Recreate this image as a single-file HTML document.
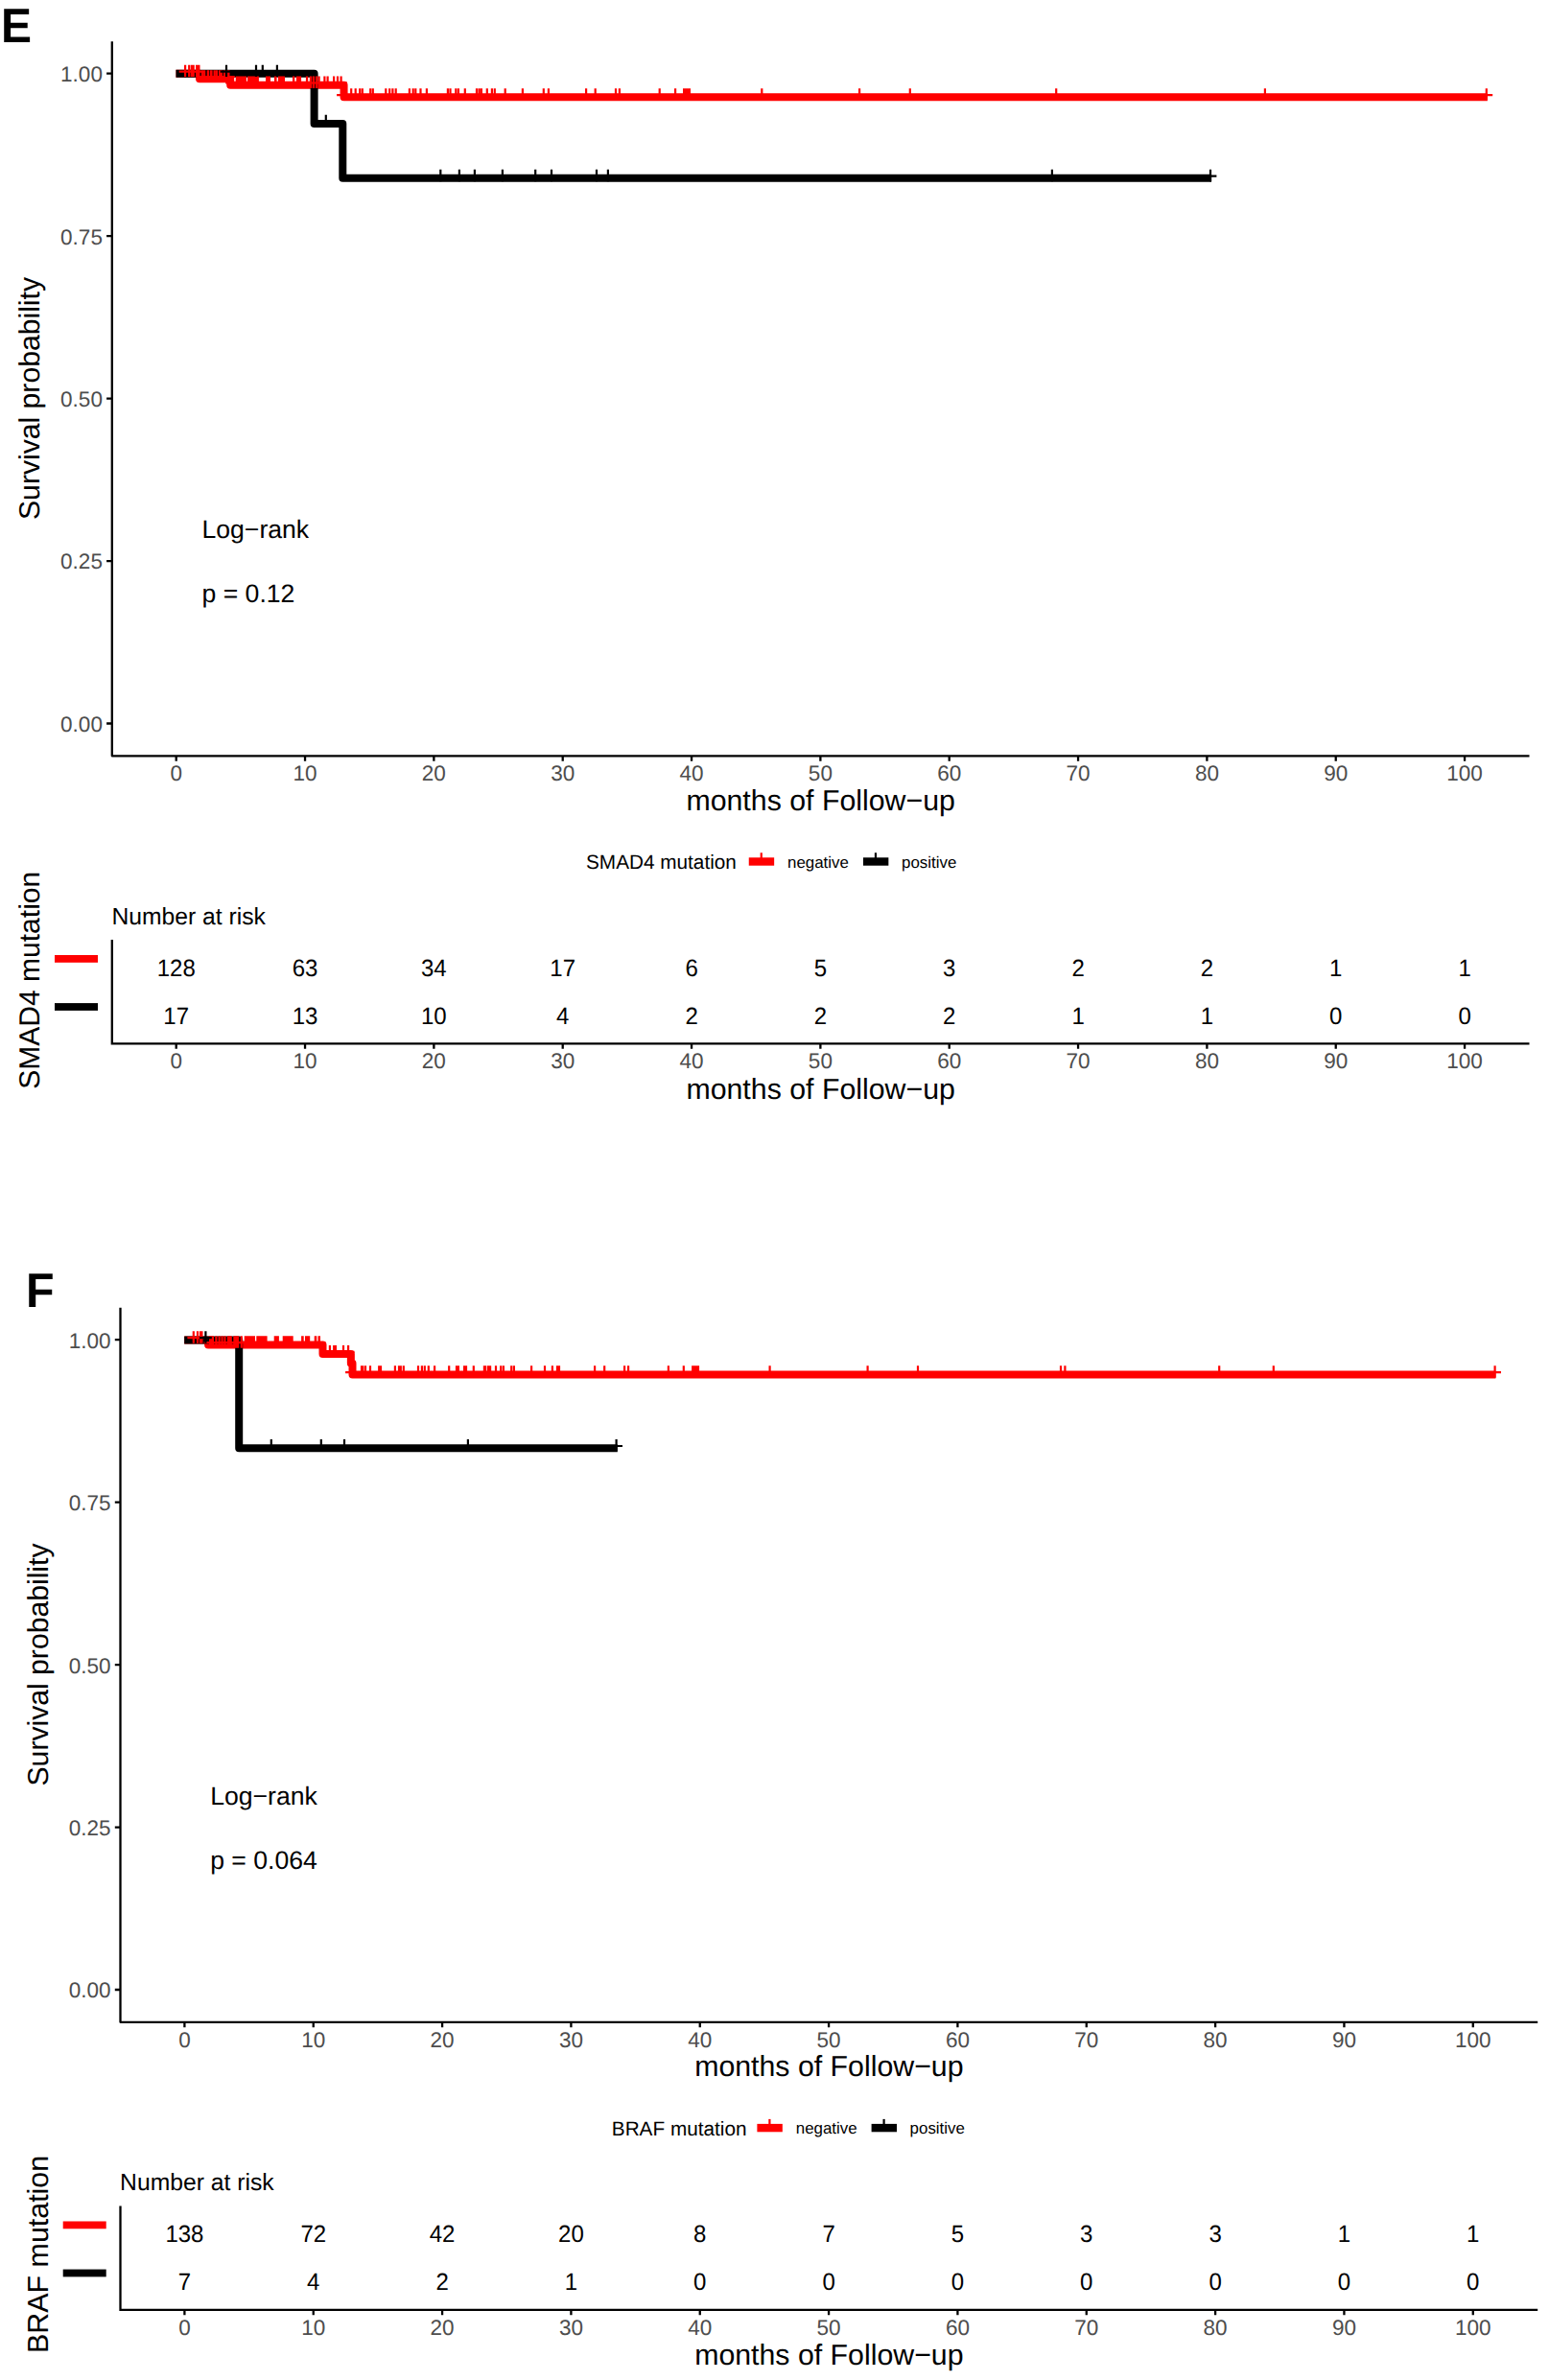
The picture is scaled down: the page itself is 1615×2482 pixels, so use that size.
<!DOCTYPE html>
<html lang="en"><head><meta charset="utf-8"><title>Kaplan-Meier survival curves: SMAD4 and BRAF mutation</title>
<style>html,body{margin:0;padding:0;background:#fff}svg{display:block}text{font-family:"Liberation Sans", sans-serif;text-rendering:geometricPrecision}</style>
</head><body>
<svg width="1615" height="2482" viewBox="0 0 1615 2482" role="img" aria-label="Kaplan-Meier survival curves by SMAD4 and BRAF mutation status">
<rect width="1615" height="2482" fill="#fff"/>
<g>
<text transform="translate(0.9,43.9) scale(0.952,1)" font-size="50.4" font-weight="700" fill="#000">E</text>
<path d="M183.5,76.77H208.05V82.34H240.2V88.69H358.56V101.3H1550.8" stroke="#FF0000" stroke-width="8" fill="none" stroke-linejoin="round" stroke-linecap="butt"/>
<path d="M183.5,76.77H327.6V128.9H357.3V185.86H1263.1" stroke="#000000" stroke-width="8" fill="none" stroke-linejoin="round" stroke-linecap="butt"/>
<path d="M193.1,67.67v12.4M186.7,74.57h12.8M197.2,67.67v12.4M190.8,74.57h12.8M199.9,67.67v12.4M193.5,74.57h12.8M201.7,67.67v12.4M195.3,74.57h12.8M205.1,67.67v12.4M198.7,74.57h12.8M206.3,67.67v12.4M199.9,74.57h12.8M207.4,67.67v12.4M201,74.57h12.8M210.9,73.24v12.4M204.5,80.14h12.8M213.2,73.24v12.4M206.8,80.14h12.8M216.8,73.24v12.4M210.4,80.14h12.8M217.1,73.24v12.4M210.7,80.14h12.8M220,73.24v12.4M213.6,80.14h12.8M220.5,73.24v12.4M214.1,80.14h12.8M223.6,73.24v12.4M217.2,80.14h12.8M225.9,73.24v12.4M219.5,80.14h12.8M229,73.24v12.4M222.6,80.14h12.8M230.9,73.24v12.4M224.5,80.14h12.8M234,73.24v12.4M227.6,80.14h12.8M236.2,73.24v12.4M229.8,80.14h12.8M238.4,73.24v12.4M232,80.14h12.8M241.6,79.59v12.4M235.2,86.49h12.8M242.9,79.59v12.4M236.5,86.49h12.8M246.8,79.59v12.4M240.4,86.49h12.8M248.32,79.59v12.4M241.92,86.49h12.8M249.83,79.59v12.4M243.43,86.49h12.8M251.35,79.59v12.4M244.95,86.49h12.8M252.87,79.59v12.4M246.47,86.49h12.8M254.38,79.59v12.4M247.98,86.49h12.8M255.9,79.59v12.4M249.5,86.49h12.8M259.1,79.59v12.4M252.7,86.49h12.8M260.72,79.59v12.4M254.32,86.49h12.8M262.33,79.59v12.4M255.93,86.49h12.8M263.95,79.59v12.4M257.55,86.49h12.8M265.57,79.59v12.4M259.17,86.49h12.8M267.18,79.59v12.4M260.78,86.49h12.8M268.8,79.59v12.4M262.4,86.49h12.8M278.1,79.59v12.4M271.7,86.49h12.8M279.5,79.59v12.4M273.1,86.49h12.8M280.9,79.59v12.4M274.5,86.49h12.8M287.1,79.59v12.4M280.7,86.49h12.8M287.5,79.59v12.4M281.1,86.49h12.8M291,79.59v12.4M284.6,86.49h12.8M292.63,79.59v12.4M286.23,86.49h12.8M294.27,79.59v12.4M287.87,86.49h12.8M295.9,79.59v12.4M289.5,86.49h12.8M306.1,79.59v12.4M299.7,86.49h12.8M306.2,79.59v12.4M299.8,86.49h12.8M310,79.59v12.4M303.6,86.49h12.8M311.5,79.59v12.4M305.1,86.49h12.8M313,79.59v12.4M306.6,86.49h12.8M320,79.59v12.4M313.6,86.49h12.8M320.1,79.59v12.4M313.7,86.49h12.8M323.9,79.59v12.4M317.5,86.49h12.8M324.1,79.59v12.4M317.7,86.49h12.8M326.9,79.59v12.4M320.5,86.49h12.8M329.9,79.59v12.4M323.5,86.49h12.8M332.6,79.59v12.4M326.2,86.49h12.8M338.4,79.59v12.4M332,86.49h12.8M341.6,79.59v12.4M335.2,86.49h12.8M348.1,79.59v12.4M341.7,86.49h12.8M352,79.59v12.4M345.6,86.49h12.8M355.6,79.59v12.4M349.2,86.49h12.8M357.5,92.2v12.4M351.1,99.1h12.8M366.2,92.2v12.4M359.8,99.1h12.8M370.7,92.2v12.4M364.3,99.1h12.8M375.2,92.2v12.4M368.8,99.1h12.8M377.8,92.2v12.4M371.4,99.1h12.8M386.2,92.2v12.4M379.8,99.1h12.8M388.8,92.2v12.4M382.4,99.1h12.8M402.3,92.2v12.4M395.9,99.1h12.8M406.2,92.2v12.4M399.8,99.1h12.8M409.4,92.2v12.4M403,99.1h12.8M412.7,92.2v12.4M406.3,99.1h12.8M426.9,92.2v12.4M420.5,99.1h12.8M430.7,92.2v12.4M424.3,99.1h12.8M433.3,92.2v12.4M426.9,99.1h12.8M438.5,92.2v12.4M432.1,99.1h12.8M444.9,92.2v12.4M438.5,99.1h12.8M466.9,92.2v12.4M460.5,99.1h12.8M469.5,92.2v12.4M463.1,99.1h12.8M475.3,92.2v12.4M468.9,99.1h12.8M477.9,92.2v12.4M471.5,99.1h12.8M484.8,92.2v12.4M478.4,99.1h12.8M497,92.2v12.4M490.6,99.1h12.8M499.6,92.2v12.4M493.2,99.1h12.8M501.9,92.2v12.4M495.5,99.1h12.8M507.8,92.2v12.4M501.4,99.1h12.8M512.9,92.2v12.4M506.5,99.1h12.8M515.8,92.2v12.4M509.4,99.1h12.8M526.7,92.2v12.4M520.3,99.1h12.8M544.9,92.2v12.4M538.5,99.1h12.8M566.8,92.2v12.4M560.4,99.1h12.8M571.9,92.2v12.4M565.5,99.1h12.8M611.1,92.2v12.4M604.7,99.1h12.8M620.7,92.2v12.4M614.3,99.1h12.8M642,92.2v12.4M635.6,99.1h12.8M645.9,92.2v12.4M639.5,99.1h12.8M687.7,92.2v12.4M681.3,99.1h12.8M704.1,92.2v12.4M697.7,99.1h12.8M713.1,92.2v12.4M706.7,99.1h12.8M715.1,92.2v12.4M708.7,99.1h12.8M717.1,92.2v12.4M710.7,99.1h12.8M718.9,92.2v12.4M712.5,99.1h12.8M794.3,92.2v12.4M787.9,99.1h12.8M896.1,92.2v12.4M889.7,99.1h12.8M948.8,92.2v12.4M942.4,99.1h12.8M1101.2,92.2v12.4M1094.8,99.1h12.8M1318.9,92.2v12.4M1312.5,99.1h12.8M1549.8,92.2v12.4M1543.4,99.1h12.8" stroke="#FF0000" stroke-width="2.2" fill="none" stroke-linecap="butt"/>
<path d="M236,67.67v12.4M229.6,74.57h12.8M267,67.67v12.4M260.6,74.57h12.8M273.8,67.67v12.4M267.4,74.57h12.8M288.9,67.67v12.4M282.5,74.57h12.8M339.8,119.8v12.4M333.4,126.7h12.8M459.3,176.76v12.4M452.9,183.66h12.8M478.9,176.76v12.4M472.5,183.66h12.8M494.9,176.76v12.4M488.5,183.66h12.8M523.9,176.76v12.4M517.5,183.66h12.8M558.2,176.76v12.4M551.8,183.66h12.8M575,176.76v12.4M568.6,183.66h12.8M622,176.76v12.4M615.6,183.66h12.8M633.9,176.76v12.4M627.5,183.66h12.8M1096.9,176.76v12.4M1090.5,183.66h12.8M1262,176.76v12.4M1255.6,183.66h12.8" stroke="#000000" stroke-width="2.2" fill="none" stroke-linecap="butt"/>
<path d="M116.8,43.25V788.3H1594.5" stroke="#000" stroke-width="2.3" fill="none" stroke-linecap="butt" stroke-linejoin="round"/>
<path d="M183.7,788.3v5.4M318.04,788.3v5.4M452.37,788.3v5.4M586.71,788.3v5.4M721.05,788.3v5.4M855.38,788.3v5.4M989.72,788.3v5.4M1124.06,788.3v5.4M1258.4,788.3v5.4M1392.73,788.3v5.4M1527.07,788.3v5.4M116.8,754.5h-5.7M116.8,585.05h-5.7M116.8,415.6h-5.7M116.8,246.15h-5.7M116.8,76.7h-5.7" stroke="#000" stroke-width="2.3" fill="none"/>
<g font-size="22.5" fill="#4D4D4D">
<g text-anchor="middle">
<text transform="translate(183.7,814) scale(1,1)">0</text>
<text transform="translate(318.04,814) scale(1,1)">10</text>
<text transform="translate(452.37,814) scale(1,1)">20</text>
<text transform="translate(586.71,814) scale(1,1)">30</text>
<text transform="translate(721.05,814) scale(1,1)">40</text>
<text transform="translate(855.38,814) scale(1,1)">50</text>
<text transform="translate(989.72,814) scale(1,1)">60</text>
<text transform="translate(1124.06,814) scale(1,1)">70</text>
<text transform="translate(1258.4,814) scale(1,1)">80</text>
<text transform="translate(1392.73,814) scale(1,1)">90</text>
<text transform="translate(1527.07,814) scale(1,1)">100</text>
</g><g text-anchor="end">
<text transform="translate(106.9,762.9) scale(1,1)">0.00</text>
<text transform="translate(106.9,593.45) scale(1,1)">0.25</text>
<text transform="translate(106.9,424) scale(1,1)">0.50</text>
<text transform="translate(106.9,254.55) scale(1,1)">0.75</text>
<text transform="translate(106.9,85.1) scale(1,1)">1.00</text>
</g></g>
<text x="855.65" y="844.5" font-size="30.3" text-anchor="middle" fill="#000">months of Follow−up</text>
<text transform="translate(41.1,415.5) rotate(-90)" font-size="30.15" text-anchor="middle" fill="#000">Survival probability</text>
<text x="210.5" y="561.2" font-size="26.6" fill="#000">Log−rank</text>
<text x="210.5" y="628.3" font-size="26.6" fill="#000">p = 0.12</text>
<text x="611" y="906" font-size="20.75" fill="#000">SMAD4 mutation</text>
<rect x="780.75" y="894.3" width="26.4" height="8.4" fill="#FF0000"/>
<rect x="792.65" y="889.3" width="2.2" height="6" fill="#FF0000"/>
<rect x="899.95" y="894.3" width="26.4" height="8.4" fill="#000000"/>
<rect x="911.85" y="889.3" width="2.2" height="6" fill="#000000"/>
<text x="821" y="904.7" font-size="16.9" fill="#000">negative</text>
<text x="940" y="904.7" font-size="16.9" fill="#000">positive</text>
<text x="116.4" y="963.8" font-size="24.7" fill="#000">Number at risk</text>
<path d="M116.8,980.05V1088.4H1594.5" stroke="#000" stroke-width="2.3" fill="none"/>
<path d="M183.7,1088.4v5.3M318.04,1088.4v5.3M452.37,1088.4v5.3M586.71,1088.4v5.3M721.05,1088.4v5.3M855.38,1088.4v5.3M989.72,1088.4v5.3M1124.06,1088.4v5.3M1258.4,1088.4v5.3M1392.73,1088.4v5.3M1527.07,1088.4v5.3" stroke="#000" stroke-width="2.3" fill="none"/>
<g font-size="22.5" fill="#4D4D4D" text-anchor="middle">
<text transform="translate(183.7,1113.8) scale(1,1)">0</text>
<text transform="translate(318.04,1113.8) scale(1,1)">10</text>
<text transform="translate(452.37,1113.8) scale(1,1)">20</text>
<text transform="translate(586.71,1113.8) scale(1,1)">30</text>
<text transform="translate(721.05,1113.8) scale(1,1)">40</text>
<text transform="translate(855.38,1113.8) scale(1,1)">50</text>
<text transform="translate(989.72,1113.8) scale(1,1)">60</text>
<text transform="translate(1124.06,1113.8) scale(1,1)">70</text>
<text transform="translate(1258.4,1113.8) scale(1,1)">80</text>
<text transform="translate(1392.73,1113.8) scale(1,1)">90</text>
<text transform="translate(1527.07,1113.8) scale(1,1)">100</text>
</g>
<rect x="57" y="996" width="45" height="7.8" fill="#FF0000"/>
<rect x="57" y="1046.1" width="45" height="7.8" fill="#000000"/>
<g font-size="24" fill="#000" text-anchor="middle">
<text transform="translate(183.7,1018.2) scale(1,1.04)">128</text>
<text transform="translate(318.04,1018.2) scale(1,1.04)">63</text>
<text transform="translate(452.37,1018.2) scale(1,1.04)">34</text>
<text transform="translate(586.71,1018.2) scale(1,1.04)">17</text>
<text transform="translate(721.05,1018.2) scale(1,1.04)">6</text>
<text transform="translate(855.38,1018.2) scale(1,1.04)">5</text>
<text transform="translate(989.72,1018.2) scale(1,1.04)">3</text>
<text transform="translate(1124.06,1018.2) scale(1,1.04)">2</text>
<text transform="translate(1258.4,1018.2) scale(1,1.04)">2</text>
<text transform="translate(1392.73,1018.2) scale(1,1.04)">1</text>
<text transform="translate(1527.07,1018.2) scale(1,1.04)">1</text>
<text transform="translate(183.7,1068.1) scale(1,1.04)">17</text>
<text transform="translate(318.04,1068.1) scale(1,1.04)">13</text>
<text transform="translate(452.37,1068.1) scale(1,1.04)">10</text>
<text transform="translate(586.71,1068.1) scale(1,1.04)">4</text>
<text transform="translate(721.05,1068.1) scale(1,1.04)">2</text>
<text transform="translate(855.38,1068.1) scale(1,1.04)">2</text>
<text transform="translate(989.72,1068.1) scale(1,1.04)">2</text>
<text transform="translate(1124.06,1068.1) scale(1,1.04)">1</text>
<text transform="translate(1258.4,1068.1) scale(1,1.04)">1</text>
<text transform="translate(1392.73,1068.1) scale(1,1.04)">0</text>
<text transform="translate(1527.07,1068.1) scale(1,1.04)">0</text>
</g>
<text x="855.65" y="1145.6" font-size="30.3" text-anchor="middle" fill="#000">months of Follow−up</text>
<text transform="translate(41.3,1022.3) rotate(-90)" font-size="30.05" text-anchor="middle" fill="#000">SMAD4 mutation</text>
</g>
<g>
<text transform="translate(26.9,1362.7) scale(0.96,1)" font-size="50.4" font-weight="700" fill="#000">F</text>
<path d="M192.2,1397.4H217.1V1402.4H336.5V1412H365.85V1421.8H367.5V1433.4H1559.4" stroke="#FF0000" stroke-width="8" fill="none" stroke-linejoin="round" stroke-linecap="butt"/>
<path d="M192.2,1397.4H249.2V1510.2H643.8" stroke="#000000" stroke-width="8" fill="none" stroke-linejoin="round" stroke-linecap="butt"/>
<path d="M201.8,1388.3v12.4M195.4,1395.2h12.8M206,1388.3v12.4M199.6,1395.2h12.8M209,1388.3v12.4M202.6,1395.2h12.8M210.4,1388.3v12.4M204,1395.2h12.8M219.1,1393.3v12.4M212.7,1400.2h12.8M220.5,1393.3v12.4M214.1,1400.2h12.8M221.9,1393.3v12.4M215.5,1400.2h12.8M225.4,1393.3v12.4M219,1400.2h12.8M228.6,1393.3v12.4M222.2,1400.2h12.8M231.55,1393.3v12.4M225.15,1400.2h12.8M234.45,1393.3v12.4M228.05,1400.2h12.8M237.9,1393.3v12.4M231.5,1400.2h12.8M239.3,1393.3v12.4M232.9,1400.2h12.8M240.7,1393.3v12.4M234.3,1400.2h12.8M244.4,1393.3v12.4M238,1400.2h12.8M246.25,1393.3v12.4M239.85,1400.2h12.8M248.1,1393.3v12.4M241.7,1400.2h12.8M251.75,1393.3v12.4M245.35,1400.2h12.8M255.8,1393.3v12.4M249.4,1400.2h12.8M257.32,1393.3v12.4M250.92,1400.2h12.8M258.83,1393.3v12.4M252.43,1400.2h12.8M260.35,1393.3v12.4M253.95,1400.2h12.8M261.87,1393.3v12.4M255.47,1400.2h12.8M263.38,1393.3v12.4M256.98,1400.2h12.8M264.9,1393.3v12.4M258.5,1400.2h12.8M268.4,1393.3v12.4M262,1400.2h12.8M269.92,1393.3v12.4M263.52,1400.2h12.8M271.43,1393.3v12.4M265.03,1400.2h12.8M272.95,1393.3v12.4M266.55,1400.2h12.8M274.47,1393.3v12.4M268.07,1400.2h12.8M275.98,1393.3v12.4M269.58,1400.2h12.8M277.5,1393.3v12.4M271.1,1400.2h12.8M286.8,1393.3v12.4M280.4,1400.2h12.8M288.3,1393.3v12.4M281.9,1400.2h12.8M289.8,1393.3v12.4M283.4,1400.2h12.8M295.8,1393.3v12.4M289.4,1400.2h12.8M297.56,1393.3v12.4M291.16,1400.2h12.8M299.32,1393.3v12.4M292.92,1400.2h12.8M301.08,1393.3v12.4M294.68,1400.2h12.8M302.84,1393.3v12.4M296.44,1400.2h12.8M304.6,1393.3v12.4M298.2,1400.2h12.8M315.2,1393.3v12.4M308.8,1400.2h12.8M315.6,1393.3v12.4M309.2,1400.2h12.8M319.1,1393.3v12.4M312.7,1400.2h12.8M320.6,1393.3v12.4M314.2,1400.2h12.8M322.1,1393.3v12.4M315.7,1400.2h12.8M328.8,1393.3v12.4M322.4,1400.2h12.8M329.2,1393.3v12.4M322.8,1400.2h12.8M332.6,1393.3v12.4M326.2,1400.2h12.8M332.9,1393.3v12.4M326.5,1400.2h12.8M343.9,1402.9v12.4M337.5,1409.8h12.8M348.2,1402.9v12.4M341.8,1409.8h12.8M349.9,1402.9v12.4M343.5,1409.8h12.8M358,1402.9v12.4M351.6,1409.8h12.8M363.1,1402.9v12.4M356.7,1409.8h12.8M366.5,1424.3v12.4M360.1,1431.2h12.8M377,1424.3v12.4M370.6,1431.2h12.8M378.3,1424.3v12.4M371.9,1431.2h12.8M381,1424.3v12.4M374.6,1431.2h12.8M386,1424.3v12.4M379.6,1431.2h12.8M395.2,1424.3v12.4M388.8,1431.2h12.8M397,1424.3v12.4M390.6,1431.2h12.8M411.9,1424.3v12.4M405.5,1431.2h12.8M416,1424.3v12.4M409.6,1431.2h12.8M417.8,1424.3v12.4M411.4,1431.2h12.8M420.8,1424.3v12.4M414.4,1431.2h12.8M436,1424.3v12.4M429.6,1431.2h12.8M439.9,1424.3v12.4M433.5,1431.2h12.8M442.8,1424.3v12.4M436.4,1431.2h12.8M446.8,1424.3v12.4M440.4,1431.2h12.8M453.1,1424.3v12.4M446.7,1431.2h12.8M468.2,1424.3v12.4M461.8,1431.2h12.8M476,1424.3v12.4M469.6,1431.2h12.8M477.9,1424.3v12.4M471.5,1431.2h12.8M484.1,1424.3v12.4M477.7,1431.2h12.8M486,1424.3v12.4M479.6,1431.2h12.8M493.8,1424.3v12.4M487.4,1431.2h12.8M504.9,1424.3v12.4M498.5,1431.2h12.8M505.9,1424.3v12.4M499.5,1431.2h12.8M508.8,1424.3v12.4M502.4,1431.2h12.8M509.9,1424.3v12.4M503.5,1431.2h12.8M511.1,1424.3v12.4M504.7,1431.2h12.8M517,1424.3v12.4M510.6,1431.2h12.8M522.2,1424.3v12.4M515.8,1431.2h12.8M524.9,1424.3v12.4M518.5,1431.2h12.8M533.2,1424.3v12.4M526.8,1431.2h12.8M535.9,1424.3v12.4M529.5,1431.2h12.8M554.1,1424.3v12.4M547.7,1431.2h12.8M568,1424.3v12.4M561.6,1431.2h12.8M575.9,1424.3v12.4M569.5,1431.2h12.8M581,1424.3v12.4M574.6,1431.2h12.8M583,1424.3v12.4M576.6,1431.2h12.8M620.1,1424.3v12.4M613.7,1431.2h12.8M630.2,1424.3v12.4M623.8,1431.2h12.8M651.1,1424.3v12.4M644.7,1431.2h12.8M655.1,1424.3v12.4M648.7,1431.2h12.8M696.9,1424.3v12.4M690.5,1431.2h12.8M712.8,1424.3v12.4M706.4,1431.2h12.8M722.2,1424.3v12.4M715.8,1431.2h12.8M724.2,1424.3v12.4M717.8,1431.2h12.8M726.2,1424.3v12.4M719.8,1431.2h12.8M728,1424.3v12.4M721.6,1431.2h12.8M802.6,1424.3v12.4M796.2,1431.2h12.8M904.6,1424.3v12.4M898.2,1431.2h12.8M957,1424.3v12.4M950.6,1431.2h12.8M1106,1424.3v12.4M1099.6,1431.2h12.8M1110.4,1424.3v12.4M1104,1431.2h12.8M1271.2,1424.3v12.4M1264.8,1431.2h12.8M1327.8,1424.3v12.4M1321.4,1431.2h12.8M1558.6,1424.3v12.4M1552.2,1431.2h12.8" stroke="#FF0000" stroke-width="2.2" fill="none" stroke-linecap="butt"/>
<path d="M214.4,1388.3v12.4M208,1395.2h12.8M282.8,1501.1v12.4M276.4,1508h12.8M334.8,1501.1v12.4M328.4,1508h12.8M359,1501.1v12.4M352.6,1508h12.8M487.9,1501.1v12.4M481.5,1508h12.8M642.6,1501.1v12.4M636.2,1508h12.8" stroke="#000000" stroke-width="2.2" fill="none" stroke-linecap="butt"/>
<path d="M125.5,1363.75V2108.8H1603.2" stroke="#000" stroke-width="2.3" fill="none" stroke-linecap="butt" stroke-linejoin="round"/>
<path d="M192.4,2108.8v5.4M326.74,2108.8v5.4M461.07,2108.8v5.4M595.41,2108.8v5.4M729.75,2108.8v5.4M864.08,2108.8v5.4M998.42,2108.8v5.4M1132.76,2108.8v5.4M1267.1,2108.8v5.4M1401.43,2108.8v5.4M1535.77,2108.8v5.4M125.5,2075h-5.7M125.5,1905.55h-5.7M125.5,1736.1h-5.7M125.5,1566.65h-5.7M125.5,1397.2h-5.7" stroke="#000" stroke-width="2.3" fill="none"/>
<g font-size="22.5" fill="#4D4D4D">
<g text-anchor="middle">
<text transform="translate(192.4,2134.5) scale(1,1)">0</text>
<text transform="translate(326.74,2134.5) scale(1,1)">10</text>
<text transform="translate(461.07,2134.5) scale(1,1)">20</text>
<text transform="translate(595.41,2134.5) scale(1,1)">30</text>
<text transform="translate(729.75,2134.5) scale(1,1)">40</text>
<text transform="translate(864.08,2134.5) scale(1,1)">50</text>
<text transform="translate(998.42,2134.5) scale(1,1)">60</text>
<text transform="translate(1132.76,2134.5) scale(1,1)">70</text>
<text transform="translate(1267.1,2134.5) scale(1,1)">80</text>
<text transform="translate(1401.43,2134.5) scale(1,1)">90</text>
<text transform="translate(1535.77,2134.5) scale(1,1)">100</text>
</g><g text-anchor="end">
<text transform="translate(115.6,2083.4) scale(1,1)">0.00</text>
<text transform="translate(115.6,1913.95) scale(1,1)">0.25</text>
<text transform="translate(115.6,1744.5) scale(1,1)">0.50</text>
<text transform="translate(115.6,1575.05) scale(1,1)">0.75</text>
<text transform="translate(115.6,1405.6) scale(1,1)">1.00</text>
</g></g>
<text x="864.35" y="2165" font-size="30.3" text-anchor="middle" fill="#000">months of Follow−up</text>
<text transform="translate(49.8,1736) rotate(-90)" font-size="30.15" text-anchor="middle" fill="#000">Survival probability</text>
<text x="219.2" y="1881.7" font-size="26.6" fill="#000">Log−rank</text>
<text x="219.2" y="1948.8" font-size="26.6" fill="#000">p = 0.064</text>
<text x="637.8" y="2226.6" font-size="20.75" fill="#000">BRAF mutation</text>
<rect x="789.4" y="2214.9" width="26.4" height="8.4" fill="#FF0000"/>
<rect x="801.3" y="2209.9" width="2.2" height="6" fill="#FF0000"/>
<rect x="908.6" y="2214.9" width="26.4" height="8.4" fill="#000000"/>
<rect x="920.5" y="2209.9" width="2.2" height="6" fill="#000000"/>
<text x="829.8" y="2225.3" font-size="16.9" fill="#000">negative</text>
<text x="948.6" y="2225.3" font-size="16.9" fill="#000">positive</text>
<text x="125.1" y="2284.3" font-size="24.7" fill="#000">Number at risk</text>
<path d="M125.5,2300.55V2408.9H1603.2" stroke="#000" stroke-width="2.3" fill="none"/>
<path d="M192.4,2408.9v5.3M326.74,2408.9v5.3M461.07,2408.9v5.3M595.41,2408.9v5.3M729.75,2408.9v5.3M864.08,2408.9v5.3M998.42,2408.9v5.3M1132.76,2408.9v5.3M1267.1,2408.9v5.3M1401.43,2408.9v5.3M1535.77,2408.9v5.3" stroke="#000" stroke-width="2.3" fill="none"/>
<g font-size="22.5" fill="#4D4D4D" text-anchor="middle">
<text transform="translate(192.4,2434.95) scale(1,1)">0</text>
<text transform="translate(326.74,2434.95) scale(1,1)">10</text>
<text transform="translate(461.07,2434.95) scale(1,1)">20</text>
<text transform="translate(595.41,2434.95) scale(1,1)">30</text>
<text transform="translate(729.75,2434.95) scale(1,1)">40</text>
<text transform="translate(864.08,2434.95) scale(1,1)">50</text>
<text transform="translate(998.42,2434.95) scale(1,1)">60</text>
<text transform="translate(1132.76,2434.95) scale(1,1)">70</text>
<text transform="translate(1267.1,2434.95) scale(1,1)">80</text>
<text transform="translate(1401.43,2434.95) scale(1,1)">90</text>
<text transform="translate(1535.77,2434.95) scale(1,1)">100</text>
</g>
<rect x="65.7" y="2316.5" width="45" height="7.8" fill="#FF0000"/>
<rect x="65.7" y="2366.6" width="45" height="7.8" fill="#000000"/>
<g font-size="24" fill="#000" text-anchor="middle">
<text transform="translate(192.4,2338.2) scale(1,1.04)">138</text>
<text transform="translate(326.74,2338.2) scale(1,1.04)">72</text>
<text transform="translate(461.07,2338.2) scale(1,1.04)">42</text>
<text transform="translate(595.41,2338.2) scale(1,1.04)">20</text>
<text transform="translate(729.75,2338.2) scale(1,1.04)">8</text>
<text transform="translate(864.08,2338.2) scale(1,1.04)">7</text>
<text transform="translate(998.42,2338.2) scale(1,1.04)">5</text>
<text transform="translate(1132.76,2338.2) scale(1,1.04)">3</text>
<text transform="translate(1267.1,2338.2) scale(1,1.04)">3</text>
<text transform="translate(1401.43,2338.2) scale(1,1.04)">1</text>
<text transform="translate(1535.77,2338.2) scale(1,1.04)">1</text>
<text transform="translate(192.4,2388.1) scale(1,1.04)">7</text>
<text transform="translate(326.74,2388.1) scale(1,1.04)">4</text>
<text transform="translate(461.07,2388.1) scale(1,1.04)">2</text>
<text transform="translate(595.41,2388.1) scale(1,1.04)">1</text>
<text transform="translate(729.75,2388.1) scale(1,1.04)">0</text>
<text transform="translate(864.08,2388.1) scale(1,1.04)">0</text>
<text transform="translate(998.42,2388.1) scale(1,1.04)">0</text>
<text transform="translate(1132.76,2388.1) scale(1,1.04)">0</text>
<text transform="translate(1267.1,2388.1) scale(1,1.04)">0</text>
<text transform="translate(1401.43,2388.1) scale(1,1.04)">0</text>
<text transform="translate(1535.77,2388.1) scale(1,1.04)">0</text>
</g>
<text x="864.35" y="2466.1" font-size="30.3" text-anchor="middle" fill="#000">months of Follow−up</text>
<text transform="translate(50.2,2350.9) rotate(-90)" font-size="30.4" text-anchor="middle" fill="#000">BRAF mutation</text>
</g>
</svg></body></html>
